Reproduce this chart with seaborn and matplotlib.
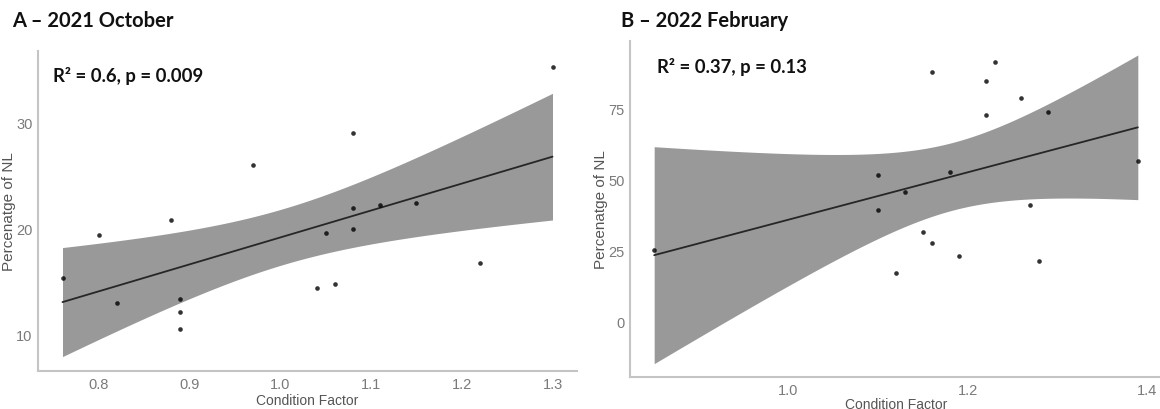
import numpy as np
import pandas as pd
import matplotlib
matplotlib.use("Agg")
import matplotlib.pyplot as plt
import seaborn as sns

# panel A - 2021 October
oct_cf = [0.76, 0.80, 0.82, 0.88, 0.89, 0.89, 0.89, 0.97, 1.04, 1.05,
          1.06, 1.08, 1.08, 1.08, 1.11, 1.15, 1.22, 1.30]
oct_nl = [15.3, 19.4, 12.9, 20.8, 13.3, 12.1, 10.5, 26.0, 14.4, 19.6,
          14.7, 29.0, 21.9, 19.9, 22.2, 22.4, 16.7, 35.3]

# panel B - 2022 February
feb_cf = [0.85, 1.10, 1.10, 1.12, 1.13, 1.15, 1.16, 1.16, 1.18, 1.19,
          1.22, 1.22, 1.23, 1.26, 1.27, 1.28, 1.29, 1.39]
feb_nl = [25.0, 51.4, 39.3, 16.9, 45.5, 31.6, 27.6, 87.7, 52.4, 22.9,
          84.4, 72.7, 91.3, 78.5, 40.8, 21.1, 73.5, 56.4]

titles = ["A \u2013 2021 October", "B \u2013 2022 February"]
stats = ["R\u00b2 = 0.6, p = 0.009", "R\u00b2 = 0.37, p = 0.13"]
oct_xticks = [0.8, 0.9, 1.0, 1.1, 1.2, 1.3]
oct_yticks = [10, 20, 30]
feb_xticks = [1.0, 1.2, 1.4]
feb_yticks = [0, 25, 50, 75]

T975_16 = 2.120  # t quantile, 16 degrees of freedom (n = 18)

sns.set_style("white")
plt.rcParams["font.family"] = ["Liberation Sans", "DejaVu Sans"]

W, H = 1160, 410
fig = plt.figure(figsize=(W / 100, H / 100), dpi=100)


def px_axes(l, t, r, b):
    return fig.add_axes([l / W, 1 - b / H, (r - l) / W, (b - t) / H])


def lm_band(ax, x, y):
    # linear-model 95% confidence band, like ggplot's geom_smooth(method="lm")
    x = np.asarray(x, float)
    y = np.asarray(y, float)
    n = len(x)
    b1, b0 = np.polyfit(x, y, 1)
    s = np.sqrt(((y - (b0 + b1 * x)) ** 2).sum() / (n - 2))
    grid = np.linspace(x.min(), x.max(), 200)
    se = s * np.sqrt(1 / n + (grid - x.mean()) ** 2 / ((x - x.mean()) ** 2).sum())
    fit = b0 + b1 * grid
    ax.fill_between(grid, fit - T975_16 * se, fit + T975_16 * se,
                    color="#999999", lw=0, zorder=2)


axis_grey = "#c4c4c4"
label_grey = "#7a7a7a"

panels = [
    (px_axes(38, 52, 577, 372), oct_cf, oct_nl, oct_xticks, oct_yticks,
     (0.733, 1.327), (6.5, 36.8), 2.0),
    (px_axes(630, 42, 1162, 378), feb_cf, feb_nl, feb_xticks, feb_yticks,
     (0.823, 1.417), (-19.5, 98.6), 0.0),
]

for ax, cf, nl, xt, yt, xl, yl, xpad in panels:
    df = pd.DataFrame({"cf": cf, "nl": nl})
    lm_band(ax, cf, nl)
    sns.regplot(data=df, x="cf", y="nl", ax=ax, ci=None, color="black",
                scatter_kws=dict(s=11, linewidths=0, zorder=4),
                line_kws=dict(color="#262626", lw=1.3, zorder=3))
    ax.set_xlim(*xl)
    ax.set_ylim(*yl)
    ax.set_xticks(xt)
    ax.set_xticklabels([f"{v:.1f}" for v in xt])
    ax.set_yticks(yt)
    ax.set_xlabel("Condition Factor", color="#555555", fontsize=10, labelpad=xpad)
    ax.set_ylabel("Percenatge of NL", color="#555555", fontsize=11)
    w_px = ax.get_position().width * W
    ax.yaxis.set_label_coords(-21.5 / w_px, 0.5)
    sns.despine(ax=ax)
    for s in ["left", "bottom"]:
        ax.spines[s].set_color(axis_grey)
        ax.spines[s].set_linewidth(1.5)
    ax.tick_params(axis="both", length=2.5, width=0.8, color=label_grey,
                   labelcolor=label_grey, labelsize=10.5, pad=1.5)

bold = dict(family=["Lato", "DejaVu Sans"], fontweight="bold",
            color="#111111", va="baseline", ha="left")
fig.text(12 / W, 1 - 27 / H, titles[0], fontsize=14.5, **bold)
fig.text(621 / W, 1 - 27 / H, titles[1], fontsize=14.5, **bold)
fig.text(53 / W, 1 - 82 / H, stats[0], fontsize=13.3, **bold)
fig.text(657 / W, 1 - 73 / H, stats[1], fontsize=13.3, **bold)

fig.savefig("out.png", dpi=100)
